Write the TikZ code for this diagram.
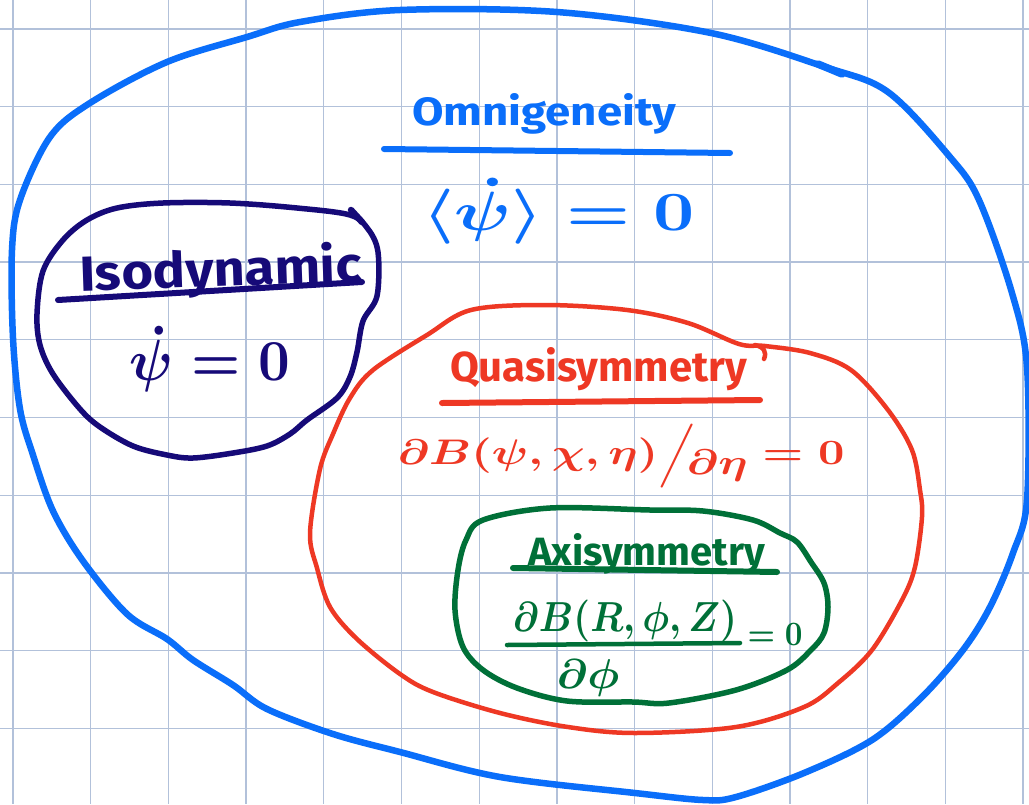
\documentclass[tikz,border=0pt]{standalone}
\usepackage{fontspec}
\usepackage{graphicx}
\newfontfamily\hand{Fira Sans}
\definecolor{cblue}{RGB}{10,110,250}
\definecolor{cnavy}{RGB}{22,10,120}
\definecolor{cred}{RGB}{238,56,36}
\definecolor{cgreen}{RGB}{0,112,56}
\definecolor{cgrid}{RGB}{178,193,218}
% fit a text into a box of given width and total height
\newcommand{\fitbox}[3]{\resizebox*{#1}{#2}{#3}}
% fit a text into a given width and height above the baseline
\newcommand{\fitword}[3]{\resizebox{#1}{#2}{#3}}
\tikzset{
  gridline/.style={draw=cgrid, line width=1.3pt},
  outline/.style={line width=#1, line cap=round, line join=round},
  uline/.style={line width=6pt, line cap=round},
  lbl/.style={inner sep=0pt, outer sep=0pt},
}
\begin{document}
\begin{tikzpicture}[x=1pt,y=-1pt]
\useasboundingbox (0,0) rectangle (1029,804);
\fill[white] (0,0) rectangle (1029,804);
% grid paper
\foreach \i in {0,...,13} \draw[gridline] ({13+77.7*\i},0) -- ({13+77.7*\i},804);
\foreach \j in {0,...,9} \draw[gridline] (0,{29+77.7*\j}) -- (1029,{29+77.7*\j});

% Omnigeneity (blue outer)
\draw[cblue, outline=6.5pt] plot[smooth cycle, tension=0.55] coordinates {
 (12,250) (20,200) (50,137) (90,103) (167,62) (247,37) (300,22) (400,10) (557,12)
 (711,33) (825,67) (888,92) (950,157) (979,200) (1012,293) (1027,367) (1027,500)
 (1013,553) (990,607) (963,650) (922,697) (872,740) (804,773) (736,797) (703,800)
 (635,793) (500,777) (400,752) (333,734) (267,709) (233,685) (193,660) (167,639)
 (127,614) (83,561) (53,511) (33,455) (20,409) (13,338)};
\draw[cblue, outline=7.5pt] (818,64) -- (842,74);

% Isodynamic (navy)
\draw[cnavy, outline=5.5pt] plot[smooth cycle, tension=0.55] coordinates {
 (63,240) (87,220) (117,208) (163,203) (230,203) (297,208) (350,215) (368,229)
 (378,252) (377,296) (363,321) (357,352) (350,377) (337,398) (307,420) (290,434)
 (267,446) (233,453) (193,458) (167,455) (133,446) (100,427) (80,409) (53,374)
 (40,345) (37,314) (43,271)};
\draw[cnavy, outline=6.5pt] (351,210) -- (362,222);

% Quasisymmetry (red)
\draw[cred, outline=4.5pt] plot[smooth cycle, tension=0.55] coordinates {
 (471,310) (545,305) (627,310) (688,323) (739,344) (765,346) (810,353) (851,370)
 (888,410) (912,450) (920,490) (922,517) (915,567) (902,600) (872,650) (838,683)
 (804,707) (736,727) (635,733) (568,727) (500,713) (433,692) (400,674) (357,639)
 (330,607) (317,568) (310,533) (320,469) (333,434) (350,398) (373,370) (427,335)};
\draw[cred, outline=4.5pt] (755,345) .. controls (764,347) and (767,352) .. (764,359);

% Axisymmetry (green)
\draw[cgreen, outline=5.5pt] plot[smooth cycle, tension=0.55] coordinates {
 (483,520) (550,508) (650,510) (703,511) (753,520) (780,533) (797,542) (811,562)
 (824,583) (828,607) (824,633) (811,650) (787,670) (736,690) (669,703) (633,702)
 (567,701) (517,688) (483,670) (463,647) (455,610) (458,570) (466,540)};

% ---- texts ----
% Omnigeneity
\node[lbl, anchor=base west, text=cblue] (omni) at (412,125) {\fitword{264pt}{32pt}{\hand\bfseries Omnigeneity}};
\draw[cblue, uline] (384,149) -- (730,153);
\node[lbl, text=cblue] (omnieq) at (559,211) {\fitbox{272pt}{66pt}{\boldmath$\langle\dot\psi\rangle=0$}};

% Isodynamic
\node[lbl, anchor=base west, text=cnavy, rotate=2] (iso) at (80,291) {\fitword{282pt}{40pt}{\hand\bfseries Isodynamic}};
\draw[cnavy, uline] (58,300) -- (362,282);
\node[lbl, text=cnavy] (isoeq) at (210,359) {\fitbox{160pt}{66pt}{\boldmath$\dot\psi=0$}};

% Quasisymmetry
\node[lbl, anchor=base west, text=cred] (qs) at (450,381) {\fitword{297pt}{34pt}{\hand\bfseries Quasisymmetry}};
\draw[cred, uline] (442,403) -- (760,400);
\node[lbl, text=cred] (qseq) at (621,456) {\fitbox{447pt}{64pt}{\boldmath$\partial B(\psi,\chi,\eta)\Big/\!\lower0.6ex\hbox{$\partial\eta$}=0$}};

% Axisymmetry
\node[lbl, anchor=base west, text=cgreen] (as) at (528,565) {\fitword{237pt}{32pt}{\hand\bfseries Axisymmetry}};
\draw[cgreen, uline] (513,568) -- (777,572);
\node[lbl, text=cgreen] (asnum) at (625,621) {\fitbox{224pt}{42pt}{\boldmath$\partial B(R,\phi,Z)$}};
\draw[cgreen, line width=4.5pt, line cap=round] (507,645) -- (740,643);
\node[lbl, text=cgreen] (asden) at (588,678) {\fitbox{63pt}{37pt}{\boldmath$\partial\phi$}};
\node[lbl, text=cgreen] (aseq) at (775,634) {\fitbox{55pt}{22pt}{\boldmath$=0$}};
\end{tikzpicture}
\end{document}
